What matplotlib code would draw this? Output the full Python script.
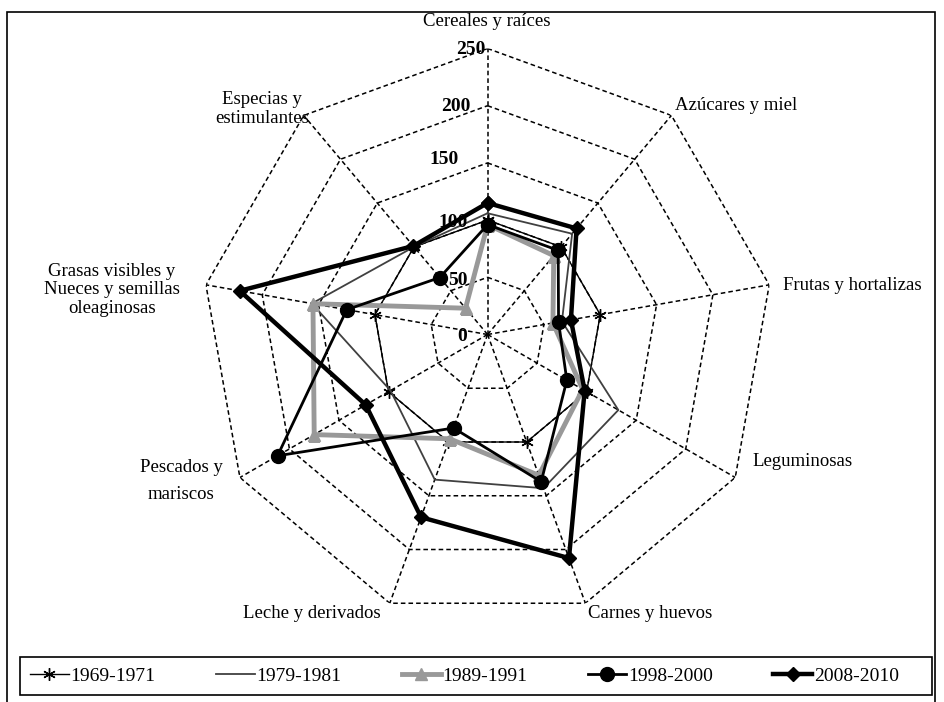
import numpy as np
import matplotlib
matplotlib.use("Agg")
import matplotlib.pyplot as plt
from matplotlib.patches import Rectangle

plt.rcParams['font.family'] = ['Liberation Serif', 'DejaVu Serif']

categories = ["Cereales y raíces", "Azúcares y miel", "Frutas y hortalizas",
              "Leguminosas", "Carnes y huevos", "Leche y derivados",
              "Pescados y\nmariscos", "Grasas visibles y\nNueces y semillas\noleaginosas",
              "Especias y\nestimulantes"]

s1969 = [100, 100, 100, 100, 100, 100, 100, 100, 100]
s1979 = [106, 115, 66, 132, 143, 135, 98, 156, 100]
s1989 = [96, 90, 58, 96, 131, 97, 175, 155, 30]
s1998 = [96, 96, 63, 80, 137, 87, 212, 125, 65]
s2008 = [115, 121, 74, 98, 208, 170, 123, 220, 101]

ticks = [0, 50, 100, 150, 200, 250]

n = len(categories)
theta = np.arange(n) * 2 * np.pi / n

fig = plt.figure(figsize=(9.44, 7.02), dpi=100)
ax = fig.add_axes([0.2135, 0.1161, 0.606, 0.8148], projection='polar')
ax.set_theta_zero_location('N')
ax.set_theta_direction(-1)
ax.set_ylim(0, 250)
ax.set_xticks([])
ax.set_yticks([])
ax.grid(False)
ax.spines['polar'].set_visible(False)

# polygon grid + spokes
tc = np.append(theta, theta[0])
for r in ticks[1:]:
    ax.plot(tc, [r] * (n + 1), color='black', lw=1.1, ls=(0, (3, 2)), zorder=1)
for t in theta:
    ax.plot([t, t], [0, 250], color='black', lw=1.1, ls=(0, (3, 2)), zorder=1)

def closed(v):
    return np.append(v, v[0])

ax.plot(tc, closed(s1969), color='black', lw=1.0, marker=(6, 2, 0), ms=9, mew=1.0,
        label='1969-1971', zorder=3)
ax.plot(tc, closed(s1979), color='#404040', lw=1.3, label='1979-1981', zorder=3)
ax.plot(tc, closed(s1989), color='#999999', lw=3.5, marker='^', ms=9,
        label='1989-1991', zorder=4)
ax.plot(tc, closed(s1998), color='black', lw=2.0, marker='o', ms=10,
        label='1998-2000', zorder=5)
ax.plot(tc, closed(s2008), color='black', lw=3.2, marker='D', ms=7,
        label='2008-2010', zorder=6)

# radial tick labels
offs = [(-25, -2), (-30, -3), (-35, -2), (-44, 3), (-32, -1), (-17, -1)]
for r, (dx, dy) in zip(ticks, offs):
    ax.annotate(str(r), (0, r), xytext=(dx, dy), textcoords='offset pixels',
                ha='center', va='center', fontsize=14, fontweight='bold', zorder=7)

# category labels (pixel positions of text centres)
lab_pos = [(487, 22, 'center', 1.2), (736, 105, 'center', 1.2),
           (783, 285, 'left', 1.2), (752, 462, 'left', 1.2),
           (650, 614, 'center', 1.2), (312, 614, 'center', 1.2),
           (181, 481, 'center', 1.7), (112, 290, 'center', 1.15),
           (262, 109, 'center', 1.15)]
for lab, (x, y, ha, ls) in zip(categories, lab_pos):
    fig.text(x / 944, 1 - y / 702, lab, ha=ha, va='center', fontsize=13.5,
             linespacing=ls)

fig.patches.append(Rectangle((7 / 944, -0.05), 928 / 944, 1 - 12 / 702 + 0.05,
                             transform=fig.transFigure, fill=False,
                             edgecolor='black', lw=1.2))
fig.patches.append(Rectangle((20 / 944, 7 / 702), 912 / 944, 38 / 702,
                             transform=fig.transFigure, fill=False,
                             edgecolor='black', lw=1.2))

leg = fig.legend(loc='center', ncol=5, mode='expand',
                 bbox_to_anchor=(22 / 944, 7 / 702, 885 / 944, 38 / 702),
                 fontsize=14, frameon=False, handlelength=2.0,
                 borderaxespad=0, handletextpad=0.1)

fig.savefig('out.png', dpi=100)
